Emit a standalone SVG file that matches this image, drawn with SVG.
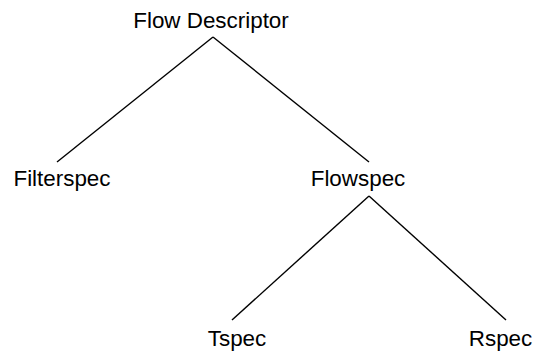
<svg xmlns="http://www.w3.org/2000/svg" width="538" height="352" viewBox="0 0 538 352">
<style>
text{font-family:"Liberation Sans",Arial,sans-serif;font-size:22.4px;fill:#000;text-anchor:middle}
.edge{stroke:#000;stroke-width:1.4;fill:none}
</style>
<rect width="538" height="352" fill="#fff"/>
<g id="connectors">
<path class="edge" d="M213,37 L57,162"/>
<path class="edge" d="M213,37 L369,162"/>
<path class="edge" d="M369,196 L232,320"/>
<path class="edge" d="M369,196 L506,320"/>
</g>
<g id="flow-descriptor"><text x="211" y="28">Flow Descriptor</text></g>
<g id="filterspec"><text x="62" y="186">Filterspec</text></g>
<g id="flowspec"><text x="358" y="186">Flowspec</text></g>
<g id="tspec"><text x="237" y="346">Tspec</text></g>
<g id="rspec"><text x="500.5" y="346">Rspec</text></g>
</svg>
